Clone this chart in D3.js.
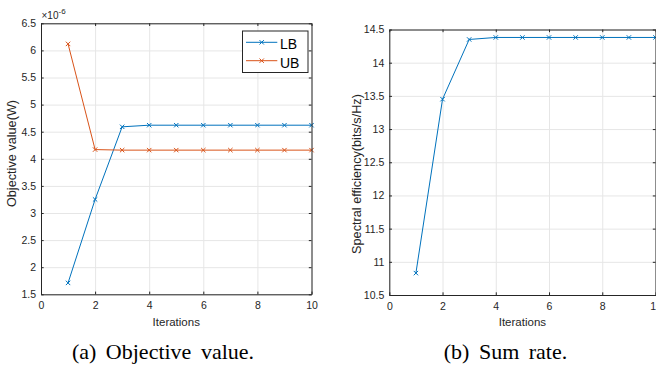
<!DOCTYPE html>
<html>
<head>
<meta charset="utf-8">
<script src="https://cdn.jsdelivr.net/npm/d3@7"></script>
<style>
  body { margin: 0; background: #fff; }
  svg { display: block; }
</style>
</head>
<body>
<script>
var iterations = [1, 2, 3, 4, 5, 6, 7, 8, 9, 10];
var lbValues = [1.71, 3.25, 4.59, 4.62, 4.62, 4.62, 4.62, 4.62, 4.62, 4.62];
var ubValues = [6.12, 4.17, 4.16, 4.16, 4.16, 4.16, 4.16, 4.16, 4.16, 4.16];
var rateValues = [10.83, 13.45, 14.35, 14.38, 14.38, 14.38, 14.38, 14.38, 14.38, 14.38];

var xTicks = [0, 2, 4, 6, 8, 10];
var objTicks = [1.5, 2, 2.5, 3, 3.5, 4, 4.5, 5, 5.5, 6, 6.5];
var rateTicks = [10.5, 11, 11.5, 12, 12.5, 13, 13.5, 14, 14.5];

var blue = '#0072BD';
var orange = '#D95319';
var axisColor = '#262626';
var gridColor = '#e6e6e6';
var tickFont = 'Liberation Sans, Arial, sans-serif';

var svg = d3.select('body').append('svg')
  .attr('width', 656)
  .attr('height', 366);

svg.append('rect').attr('width', 656).attr('height', 366).attr('fill', '#fff');

function drawPanel(p) {
  var x = d3.scaleLinear().domain([0, 10]).range([p.left, p.right]);
  var y = d3.scaleLinear().domain(p.yDomain).range([p.bottom, p.top]);
  var w = p.right - p.left;
  var h = p.bottom - p.top;

  var g = svg.append('g');

  // grid
  g.append('g')
    .attr('transform', 'translate(0,' + p.bottom + ')')
    .call(d3.axisBottom(x).tickValues(xTicks).tickSize(-h).tickFormat(''))
    .call(function(s) { s.select('.domain').remove(); })
    .selectAll('line').attr('stroke', gridColor);
  g.append('g')
    .attr('transform', 'translate(' + p.left + ',0)')
    .call(d3.axisLeft(y).tickValues(p.yTicks).tickSize(-w).tickFormat(''))
    .call(function(s) { s.select('.domain').remove(); })
    .selectAll('line').attr('stroke', gridColor);

  // series
  var line = d3.line()
    .x(function(d) { return x(d.x); })
    .y(function(d) { return y(d.y); });

  p.series.forEach(function(s) {
    var pts = iterations.map(function(it, i) { return {x: it, y: s.values[i]}; });
    g.append('path')
      .attr('d', line(pts))
      .attr('fill', 'none')
      .attr('stroke', s.color)
      .attr('stroke-width', 1);
    g.selectAll(null)
      .data(pts)
      .enter()
      .append('path')
      .attr('d', 'M-2.2,-2.2L2.2,2.2M-2.2,2.2L2.2,-2.2')
      .attr('transform', function(d) { return 'translate(' + x(d.x) + ',' + y(d.y) + ')'; })
      .attr('stroke', s.color)
      .attr('stroke-width', 1)
      .attr('fill', 'none');
  });

  // box axes with inward ticks
  var fmt = function(d) { return String(d); };
  var bottomAx = g.append('g')
    .attr('transform', 'translate(0,' + p.bottom + ')')
    .call(d3.axisBottom(x).tickValues(xTicks).tickSizeInner(-2.7).tickSizeOuter(0).tickPadding(7.6).tickFormat(fmt));
  var topAx = g.append('g')
    .attr('transform', 'translate(0,' + p.top + ')')
    .call(d3.axisTop(x).tickValues(xTicks).tickSizeInner(-2.7).tickSizeOuter(0).tickFormat(''));
  var leftAx = g.append('g')
    .attr('transform', 'translate(' + p.left + ',0)')
    .call(d3.axisLeft(y).tickValues(p.yTicks).tickSizeInner(-2.7).tickSizeOuter(0).tickPadding(5).tickFormat(fmt));
  var rightAx = g.append('g')
    .attr('transform', 'translate(' + p.right + ',0)')
    .call(d3.axisRight(y).tickValues(p.yTicks).tickSizeInner(-2.7).tickSizeOuter(0).tickFormat(''));

  [bottomAx, topAx, leftAx, rightAx].forEach(function(a) {
    a.select('.domain').attr('stroke', axisColor).attr('stroke-width', 1);
    a.selectAll('line').attr('stroke', axisColor).attr('stroke-width', 1);
    a.selectAll('text')
      .attr('fill', axisColor)
      .style('font-family', tickFont)
      .style('font-size', '10.5px');
  });

  // labels
  g.append('text')
    .attr('x', (p.left + p.right) / 2)
    .attr('y', 326)
    .attr('text-anchor', 'middle')
    .attr('fill', axisColor)
    .style('font-family', tickFont)
    .style('font-size', '11.5px')
    .text('Iterations');

  g.append('text')
    .attr('transform', 'translate(' + p.yLabelX + ',' + p.yLabelY + ') rotate(-90)')
    .attr('text-anchor', 'middle')
    .attr('fill', axisColor)
    .style('font-family', tickFont)
    .style('font-size', '12.7px')
    .text(p.yLabel);

  g.append('text')
    .attr('x', p.captionX)
    .attr('y', 359)
    .attr('text-anchor', 'middle')
    .attr('fill', '#000')
    .style('font-family', 'Liberation Serif, Times New Roman, serif')
    .style('font-size', '22px')
    .style('word-spacing', '4px')
    .text(p.caption);

  return {x: x, y: y};
}

drawPanel({
  left: 41, right: 311.5, top: 23.3, bottom: 294.3,
  yDomain: [1.5, 6.5], yTicks: objTicks,
  series: [
    {name: 'LB', values: lbValues, color: blue},
    {name: 'UB', values: ubValues, color: orange}
  ],
  yLabel: 'Objective value(W)', yLabelX: 16.3, yLabelY: 153.5,
  caption: '(a) Objective value.', captionX: 163
});

drawPanel({
  left: 389.3, right: 655.5, top: 29.5, bottom: 295,
  yDomain: [10.5, 14.5], yTicks: rateTicks,
  series: [
    {name: 'Sum rate', values: rateValues, color: blue}
  ],
  yLabel: 'Spectral efficiency(bits/s/Hz)', yLabelX: 360.8, yLabelY: 174,
  caption: '(b) Sum rate.', captionX: 505.5
});

// exponent label
var expText = svg.append('text')
  .attr('x', 41.5)
  .attr('y', 19.3)
  .attr('fill', axisColor)
  .style('font-family', tickFont)
  .style('font-size', '10px');
expText.append('tspan').text('\u00d710');
expText.append('tspan').attr('dy', -5).style('font-size', '8px').text('-6');

// legend
var legendNames = ['LB', 'UB'];
var legendColors = [blue, orange];
var legend = svg.append('g');
legend.append('rect')
  .attr('x', 242.5).attr('y', 31)
  .attr('width', 65.5).attr('height', 41.5)
  .attr('fill', '#fff')
  .attr('stroke', axisColor)
  .attr('stroke-width', 1);
legendNames.forEach(function(name, i) {
  var ly = 42.3 + i * 18.4;
  legend.append('line')
    .attr('x1', 246).attr('x2', 277.3)
    .attr('y1', ly).attr('y2', ly)
    .attr('stroke', legendColors[i]).attr('stroke-width', 1);
  legend.append('path')
    .attr('d', 'M-2.2,-2.2L2.2,2.2M-2.2,2.2L2.2,-2.2')
    .attr('transform', 'translate(261.7,' + ly + ')')
    .attr('stroke', legendColors[i]).attr('stroke-width', 1);
  legend.append('text')
    .attr('x', 280)
    .attr('y', ly + 6.8)
    .attr('fill', '#000')
    .style('font-family', tickFont)
    .style('font-size', '14px')
    .text(name);
});
</script>
</body>
</html>
